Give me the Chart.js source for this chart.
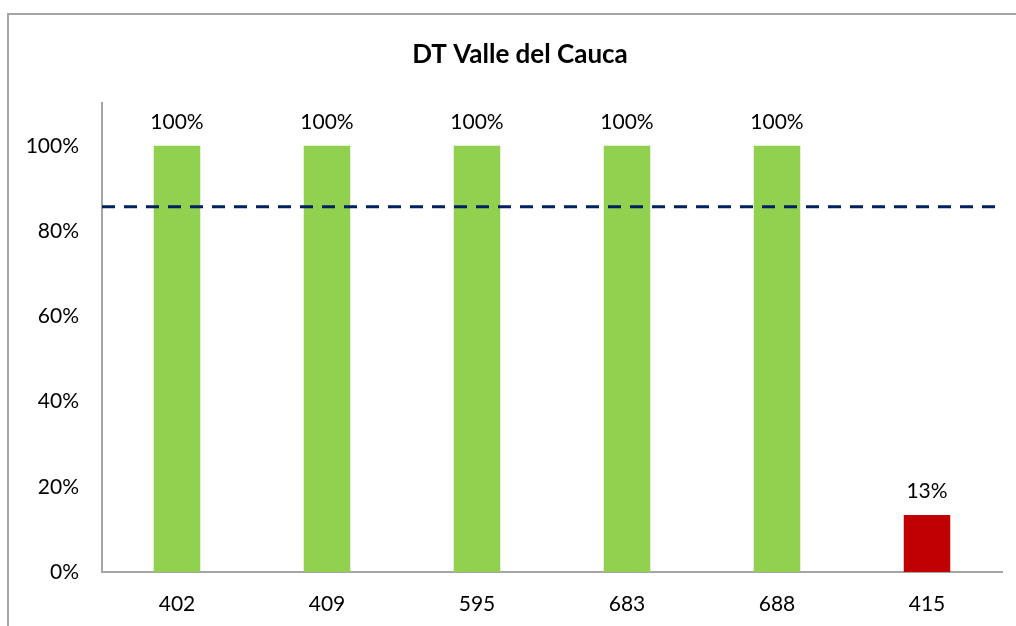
<!DOCTYPE html>
<html>
<head>
<meta charset="utf-8">
<script src="https://cdn.jsdelivr.net/npm/chart.js@4"></script>
<style>
  html, body { margin: 0; padding: 0; background: #fff; overflow: hidden; }
  #frame {
    position: absolute; left: 7px; top: 13px;
    width: 1022px; height: 613px;
    border-left: 2px solid #a6a6a6; border-top: 2px solid #a6a6a6;
  }
</style>
</head>
<body>
<div id="frame"><canvas id="chart"></canvas></div>
<script>
const categories = ['402', '409', '595', '683', '688', '415'];
const values = [1.00, 1.00, 1.00, 1.00, 1.00, 0.134];
const target = 0.857;
const yTicks = [0, 0.2, 0.4, 0.6, 0.8, 1.0];

const green = '#92D050';
const red = '#C00000';

// dashed target line across the whole plot, placed with the y scale
const targetLine = {
  id: 'targetLine',
  afterDatasetsDraw(chart) {
    const ctx = chart.ctx;
    const area = chart.chartArea;
    const y = chart.scales.y.getPixelForValue(target);
    ctx.save();
    ctx.strokeStyle = '#002060';
    ctx.lineWidth = 3;
    ctx.setLineDash([13, 9]);
    ctx.beginPath();
    ctx.moveTo(area.left, y);
    ctx.lineTo(area.right, y);
    ctx.stroke();
    ctx.restore();
  }
};

// labels above each bar, like excel data labels
const barLabels = {
  id: 'barLabels',
  afterDatasetsDraw(chart) {
    const ctx = chart.ctx;
    const meta = chart.getDatasetMeta(0);
    ctx.save();
    ctx.font = '21px Lato';
    ctx.fillStyle = '#000';
    ctx.textAlign = 'center';
    ctx.textBaseline = 'middle';
    meta.data.forEach((bar, i) => {
      ctx.fillText(Math.round(values[i] * 100) + '%', bar.x, bar.y - 24);
    });
    ctx.restore();
  }
};

var ctx = document.getElementById('chart').getContext('2d');
var chart = new Chart(ctx, {
  type: 'bar',
  data: {
    labels: categories,
    datasets: [{
      data: values,
      backgroundColor: c => c.raw < target ? red : green,
      categoryPercentage: 1,
      barPercentage: 0.31
    }]
  },
  options: {
    responsive: true,
    maintainAspectRatio: false,
    animation: false,
    plugins: {
      legend: { display: false },
      tooltip: { enabled: false },
      title: {
        display: true,
        text: 'DT Valle del Cauca',
        color: '#000',
        font: { family: 'Lato', size: 26, weight: 'bold' },
        padding: { top: 24, bottom: 33 }
      }
    },
    scales: {
      x: {
        grid: { display: false, drawTicks: false },
        border: { color: '#a6a6a6', width: 2 },
        ticks: { color: '#000', font: { family: 'Lato', size: 21 }, padding: 20 },
        afterFit: s => { s.height = 56; }
      },
      y: {
        min: 0,
        max: 1.1,
        grid: { display: false, drawTicks: false },
        border: { color: '#a6a6a6', width: 2 },
        afterBuildTicks: s => { s.ticks = yTicks.map(v => ({ value: v })); },
        ticks: {
          color: '#000',
          font: { family: 'Lato', size: 21 },
          padding: 23,
          callback: v => Math.round(v * 100) + '%'
        },
        afterFit: s => { s.width = 93; }
      },
      // empty right-hand margin so the title stays centred on the whole frame
      yRight: {
        position: 'right',
        display: true,
        grid: { display: false, drawTicks: false },
        border: { display: false },
        ticks: { display: false },
        afterFit: s => { s.width = 29; }
      }
    }
  },
  plugins: [targetLine, barLabels]
});
</script>
</body>
</html>
